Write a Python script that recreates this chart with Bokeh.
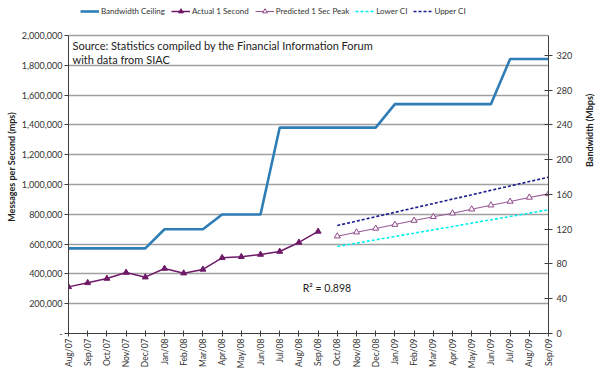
import math
from bokeh.plotting import figure
from bokeh.models import (Range1d, LinearAxis, FixedTicker, NumeralTickFormatter,
                          Legend, LegendItem, Label)
from bokeh.embed import file_html
from bokeh.resources import INLINE

months = ["Aug/07", "Sep/07", "Oct/07", "Nov/07", "Dec/07", "Jan/08", "Feb/08", "Mar/08",
          "Apr/08", "May/08", "Jun/08", "Jul/08", "Aug/08", "Sep/08", "Oct/08", "Nov/08",
          "Dec/08", "Jan/09", "Feb/09", "Mar/09", "Apr/09", "May/09", "Jun/09", "Jul/09",
          "Aug/09", "Sep/09"]

bandwidth_mbps = [98, 98, 98, 98, 98, 120, 120, 120, 137, 137, 137, 237, 237, 237, 237, 237,
                  237, 264, 264, 264, 264, 264, 264, 316, 316, 316]

actual_mps = [313000, 340000, 369000, 409000, 378000, 436000, 405000, 430000, 508000,
              515000, 530000, 550000, 611000, 685000]

predicted_mps = [653000, 680000, 705000, 731000, 758000, 783000, 807000, 834000, 861000,
                 886000, 913000, 937000]
lower_ci = [584000, 606000, 629000, 651000, 673000, 696000, 718000, 741000, 763000, 785000,
            808000, 830000]
upper_ci = [725000, 754000, 784000, 813000, 843000, 872000, 902000, 931000, 961000, 990000,
            1020000, 1049000]

left_ticks = [0, 200000, 400000, 600000, 800000, 1000000, 1200000, 1400000, 1600000,
              1800000, 2000000]
right_ticks = [0, 40, 80, 120, 160, 200, 240, 280, 320]
left_max = 2000000
right_max = 343

source_lines = ["Source: Statistics compiled by the Financial Information  Forum",
                "with data from SIAC"]
r2_text = "R\u00b2 = 0.898"

FONT = "Lato"

# layout: the frame also holds the legend strip above the value area
FRAME_W, PLOT_H, TOP_STRIP = 480, 298, 35
FRAME_H = PLOT_H + TOP_STRIP
stretch = FRAME_H / PLOT_H

x_all = list(range(len(months)))
x_actual = x_all[:len(actual_mps)]
x_pred = x_all[len(months) - len(predicted_mps):]

p = figure(frame_width=FRAME_W, frame_height=FRAME_H, output_backend="svg",
           toolbar_location=None, title=None,
           x_range=Range1d(0, len(months) - 1), y_range=Range1d(0, left_max * stretch),
           min_border_left=68, min_border_right=52, min_border_top=0, min_border_bottom=44)
p.outline_line_color = None
p.extra_y_ranges = {"bw": Range1d(0, right_max * stretch)}

# grid
p.xgrid.visible = False
p.ygrid.ticker = FixedTicker(ticks=left_ticks)
p.ygrid.grid_line_color = "#a0a0a0"
p.ygrid.grid_line_width = 1.3

# x axis
xa = p.xaxis[0]
xa.ticker = FixedTicker(ticks=x_all)
xa.major_label_overrides = {i: m for i, m in enumerate(months)}
xa.major_label_orientation = math.pi / 2
xa.major_label_text_font = FONT
xa.major_label_text_font_size = "8.5px"
xa.major_label_text_color = "#333333"
xa.axis_line_color = "#404040"
xa.major_tick_line_color = "#404040"
xa.major_tick_in = 3
xa.major_tick_out = 3
xa.minor_tick_line_color = None
xa.major_label_standoff = 2

# left axis
ya = p.yaxis[0]
ya.bounds = (0, left_max)
ya.ticker = FixedTicker(ticks=left_ticks)
ya.formatter = NumeralTickFormatter(format="0,0")
ya.major_label_overrides = {0: "-"}
ya.axis_label = "Messages per Second (mps)"
ya.axis_label_text_font = FONT
ya.axis_label_text_font_size = "9px"
ya.axis_label_text_font_style = "bold"
ya.axis_label_text_color = "#222222"
ya.axis_label_standoff = 2
ya.major_label_text_font = FONT
ya.major_label_text_font_size = "9px"
ya.major_label_text_color = "#333333"
ya.major_label_standoff = 2
ya.axis_line_color = "#404040"
ya.major_tick_line_color = "#404040"
ya.major_tick_in = 0
ya.major_tick_out = 4
ya.minor_tick_line_color = None

# right axis
ra = LinearAxis(y_range_name="bw", ticker=FixedTicker(ticks=right_ticks),
                axis_label="Bandwidth (Mbps)", bounds=(0, right_max))
ra.axis_label_orientation = math.pi / 2
ra.axis_label_text_font = FONT
ra.axis_label_text_font_size = "9px"
ra.axis_label_text_font_style = "bold"
ra.axis_label_text_color = "#222222"
ra.axis_label_standoff = 14
ra.major_label_text_font = FONT
ra.major_label_text_font_size = "9px"
ra.major_label_text_color = "#333333"
ra.major_label_standoff = 4
ra.axis_line_color = "#404040"
ra.major_tick_line_color = "#404040"
ra.major_tick_in = 4
ra.major_tick_out = 4
ra.minor_tick_line_color = None
p.add_layout(ra, "right")

# series
r_bw = p.line(x_all, bandwidth_mbps, y_range_name="bw", line_color="#2F7DB6", line_width=2.6)
r_act_l = p.line(x_actual, actual_mps, line_color="#6E1A68", line_width=1.5)
r_act_m = p.scatter(x_actual, actual_mps, marker="triangle", size=6,
                    fill_color="#6E1A68", line_color="#6E1A68")
r_pred_l = p.line(x_pred, predicted_mps, line_color="#9A5A96", line_width=1.1)
r_pred_m = p.scatter(x_pred, predicted_mps, marker="triangle", size=6,
                     fill_color="white", line_color="#8E4A8A", line_width=1)
r_low = p.line(x_pred, lower_ci, line_color="#00F0F0", line_width=1.6, line_dash="3 2")
r_up = p.line(x_pred, upper_ci, line_color="#1A1A8C", line_width=1.6, line_dash="3 2")

legend = Legend(items=[
    LegendItem(label="Bandwidth Ceiling", renderers=[r_bw]),
    LegendItem(label="Actual 1 Second", renderers=[r_act_l, r_act_m]),
    LegendItem(label="Predicted 1 Sec Peak", renderers=[r_pred_l, r_pred_m]),
    LegendItem(label="Lower CI", renderers=[r_low]),
    LegendItem(label="Upper CI", renderers=[r_up]),
], orientation="horizontal", location=(12, FRAME_H - 17))
legend.border_line_color = None
legend.background_fill_alpha = 0
legend.padding = 0
legend.margin = 0
legend.spacing = 6
legend.label_standoff = 2
legend.glyph_width = 19
legend.glyph_height = 12
legend.label_height = 12
legend.label_text_font = FONT
legend.label_text_font_size = "8px"
legend.label_text_color = "#333333"
p.add_layout(legend)

for i, line in enumerate(source_lines):
    p.add_layout(Label(x=4, y=288 - i * 14, x_units="screen", y_units="screen", text=line,
                       text_font=FONT, text_font_size="11px", text_color="#222222",
                       text_baseline="middle"))

p.add_layout(Label(x=12.2, y=308000, text=r2_text, text_font=FONT, text_font_size="10.5px",
                   text_color="#222222", text_baseline="middle"))

open("out.html", "w").write(file_html(p, INLINE))
